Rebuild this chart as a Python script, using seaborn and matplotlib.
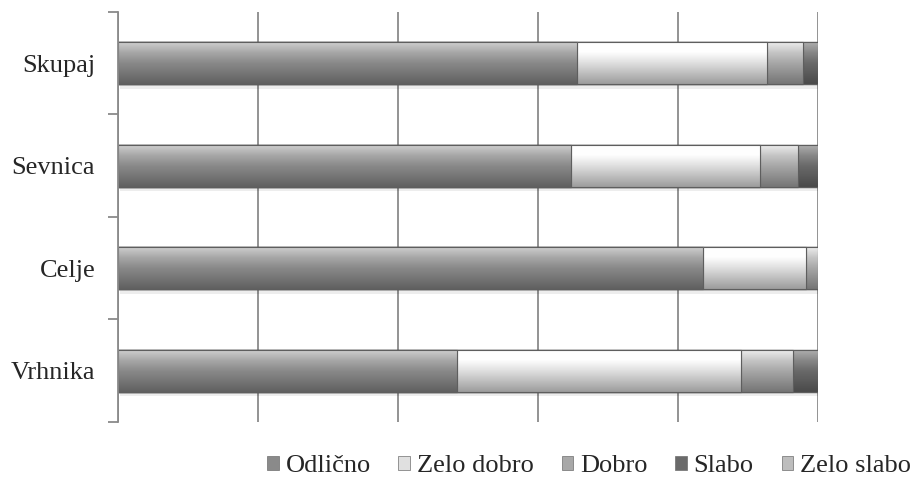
import numpy as np
import pandas as pd
import matplotlib
matplotlib.use("Agg")
import matplotlib.pyplot as plt
import matplotlib.colors as mcolors
from matplotlib.patches import Patch
import seaborn as sns

# data (percentages)
categories = ["Skupaj", "Sevnica", "Celje", "Vrhnika"]
levels = ["Odlično", "Zelo dobro", "Dobro", "Slabo", "Zelo slabo"]
odlicno = [65.6, 64.7, 83.6, 48.4]
zelo_dobro = [27.1, 27.0, 14.7, 40.6]
dobro = [5.1, 5.4, 1.7, 7.4]
slabo = [2.2, 2.9, 0.0, 3.6]
zelo_slabo = [0.0, 0.0, 0.0, 0.0]

colors = ["#8a8a8a", "#e0e0e0", "#a8a8a8", "#6a6a6a", "#bdbdbd"]

sns.set_style("white")
plt.rcParams["font.family"] = ["Liberation Serif", "DejaVu Serif"]

df = pd.DataFrame({"Odlično": odlicno, "Zelo dobro": zelo_dobro, "Dobro": dobro,
                   "Slabo": slabo, "Zelo slabo": zelo_slabo}, index=categories)
cum = df.cumsum(axis=1)

fig, ax = plt.subplots(figsize=(9.16, 4.79), dpi=100)
fig.subplots_adjust(left=0.129, right=0.893, top=0.975, bottom=0.119)

# stacked bars: draw cumulative totals from the last level to the first
for lvl, col in zip(levels[::-1], colors[::-1]):
    sns.barplot(x=cum[lvl].values, y=categories, orient="h", color=col,
                width=0.41, ax=ax, edgecolor="#5e5e5e", linewidth=0.8,
                saturation=1)

# vertical gradient on each bar to mimic the bevel look
grad = np.linspace(0, 1, 64).reshape(-1, 1)
bars = list(ax.patches)
for i, p in enumerate(bars):
    fc = np.array(mcolors.to_rgb(p.get_facecolor()))
    stops = [np.clip(fc + 0.28, 0, 1), np.clip(fc + 0.12, 0, 1), fc,
             fc * 0.85, fc * 0.7]
    cmap = mcolors.LinearSegmentedColormap.from_list("g", stops)
    x0, y0 = p.get_x(), p.get_y()
    w, h = p.get_width(), p.get_height()
    if w <= 0:
        continue
    z = 2 + i * 0.01
    p.set_zorder(z)
    im = ax.imshow(grad, cmap=cmap, aspect="auto", origin="upper",
                   extent=(x0, x0 + w, y0 + h, y0), zorder=z + 0.001,
                   interpolation="bilinear")
    im.set_clip_path(p)
    # outline again on top of the gradient so segment borders stay visible
    ax.add_patch(plt.Rectangle((x0, y0), w, h, fill=False, edgecolor="#5e5e5e",
                               linewidth=0.8, zorder=z + 0.002))

# soft shadow under each full bar
for j in range(len(categories)):
    ax.add_patch(plt.Rectangle((0.3, j + 0.205), 100, 0.045, color="#000000",
                               alpha=0.07, zorder=1.5, linewidth=0))

ax.set_xlim(0, 100)
ax.set_ylim(3.5, -0.5)
ax.set_xticks([0, 20, 40, 60, 80, 100])
ax.set_xticklabels([])
ax.tick_params(axis="x", length=0)
ax.grid(axis="x", color="#8a8a8a", linewidth=1.3, zorder=0)
ax.set_axisbelow(True)

# category ticks sit between the bars, labels in the middle
ax.set_yticks([-0.5, 0.5, 1.5, 2.5, 3.5])
ax.set_yticklabels([])
ax.set_yticks(range(len(categories)), minor=True)
ax.set_yticklabels(categories, minor=True, fontsize=19)
ax.tick_params(axis="y", which="major", length=7, width=1.3, color="#8a8a8a",
               direction="out", left=True)
ax.tick_params(axis="y", which="minor", length=0, pad=16.5)

for side in ["top", "right", "bottom"]:
    ax.spines[side].set_visible(False)
ax.spines["left"].set_color("#8a8a8a")
ax.spines["left"].set_linewidth(1.3)
ax.set_xlabel("")
ax.set_ylabel("")

handles = [Patch(facecolor=c, edgecolor="#6e6e6e", linewidth=0.5) for c in colors]
fig.legend(handles, levels, loc="center", bbox_to_anchor=(589 / 916, 0.027),
           ncol=5, frameon=False, fontsize=19, handlelength=0.45,
           handleheight=0.45, handletextpad=0.25, columnspacing=1.05,
           borderpad=0.1)

fig.savefig("out.png", dpi=100)
